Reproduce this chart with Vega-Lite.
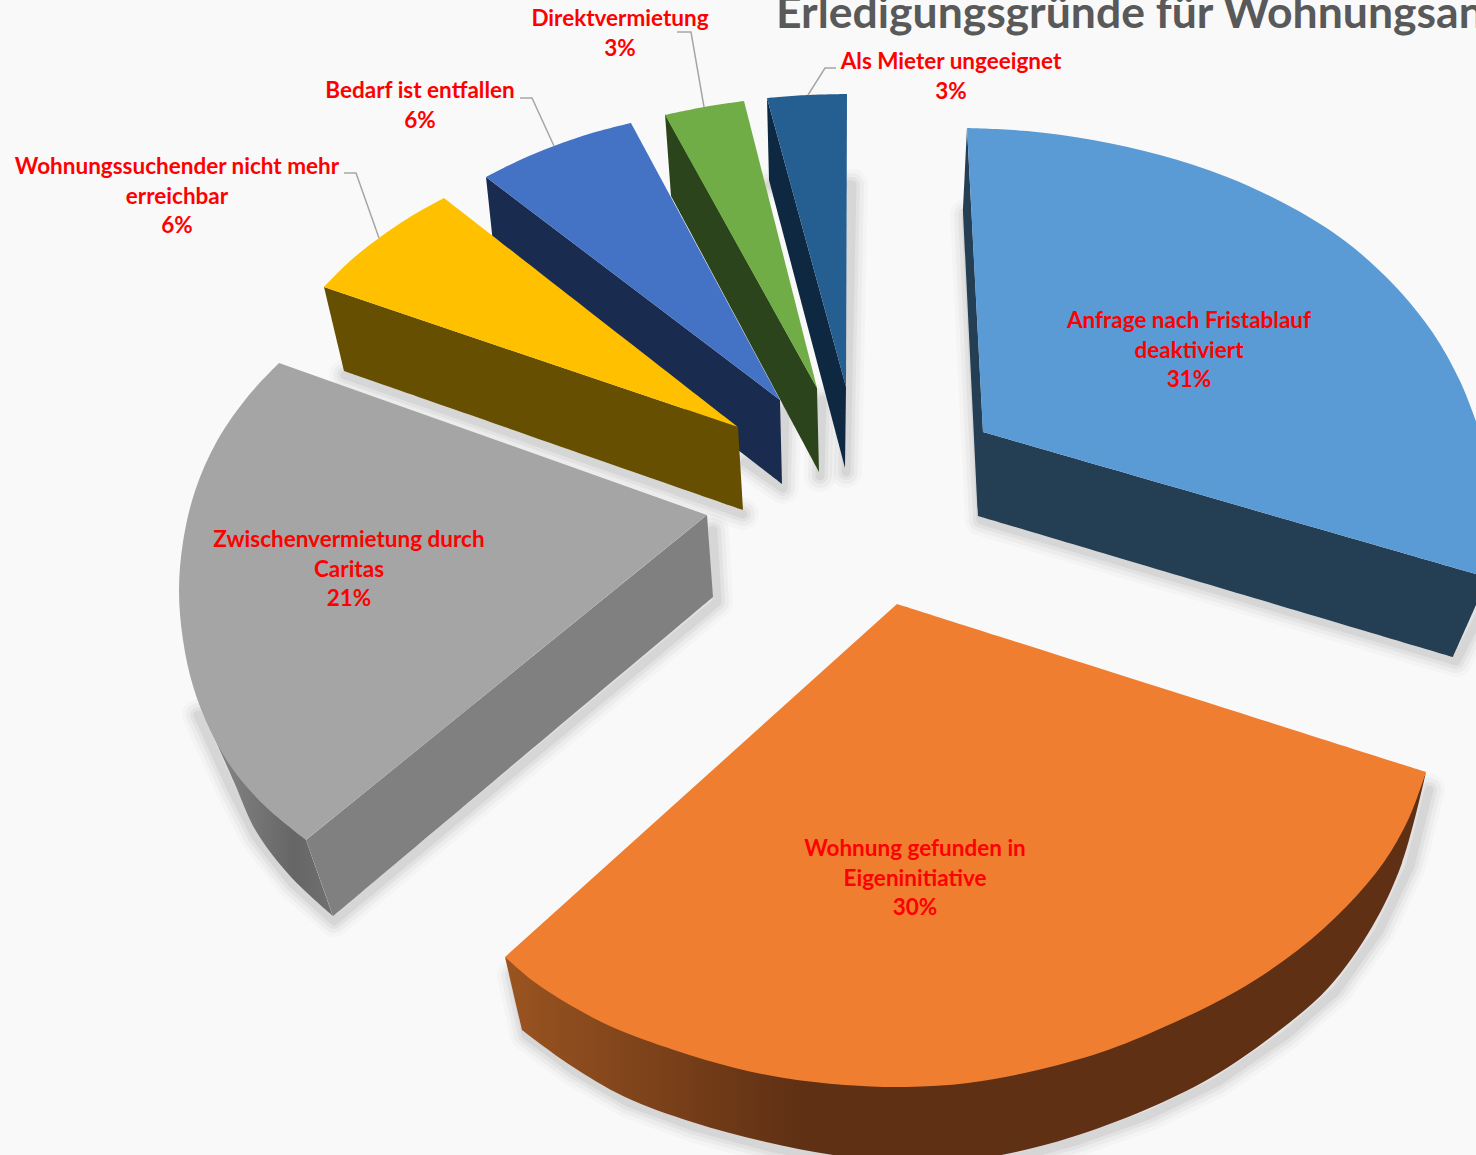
{
"$schema":"https://vega.github.io/schema/vega-lite/v6.json",
"width":1476,"height":1155,"padding":0,"autosize":{"type":"none"},
"background":"#f9f9f9",
"config":{"view":{"stroke":null}},
"datasets":{
"outlines":[
{"surface":"Als Mieter ungeeignet side","n":1,"x":767,"y":98},{"surface":"Als Mieter ungeeignet side","n":2,"x":767,"y":98},{"surface":"Als Mieter ungeeignet side","n":3,"x":769,"y":180},{"surface":"Als Mieter ungeeignet side","n":4,"x":769,"y":180},{"surface":"Als Mieter ungeeignet side","n":5,"x":845,"y":468},{"surface":"Als Mieter ungeeignet side","n":6,"x":845,"y":468},{"surface":"Als Mieter ungeeignet side","n":7,"x":846,"y":387},{"surface":"Als Mieter ungeeignet side","n":8,"x":846,"y":387},
{"surface":"Als Mieter ungeeignet top","n":1,"x":767,"y":98},{"surface":"Als Mieter ungeeignet top","n":2,"x":767,"y":98},{"surface":"Als Mieter ungeeignet top","n":3,"x":807,"y":95},{"surface":"Als Mieter ungeeignet top","n":4,"x":847,"y":94},{"surface":"Als Mieter ungeeignet top","n":5,"x":847,"y":94},{"surface":"Als Mieter ungeeignet top","n":6,"x":846,"y":387},{"surface":"Als Mieter ungeeignet top","n":7,"x":846,"y":387},
{"surface":"Direktvermietung side","n":1,"x":665,"y":114},{"surface":"Direktvermietung side","n":2,"x":665,"y":114},{"surface":"Direktvermietung side","n":3,"x":671,"y":196},{"surface":"Direktvermietung side","n":4,"x":671,"y":196},{"surface":"Direktvermietung side","n":5,"x":819,"y":472},{"surface":"Direktvermietung side","n":6,"x":819,"y":472},{"surface":"Direktvermietung side","n":7,"x":817,"y":388},{"surface":"Direktvermietung side","n":8,"x":817,"y":388},
{"surface":"Direktvermietung top","n":1,"x":665,"y":115},{"surface":"Direktvermietung top","n":2,"x":665,"y":115},{"surface":"Direktvermietung top","n":3,"x":704,"y":107},{"surface":"Direktvermietung top","n":4,"x":744,"y":101},{"surface":"Direktvermietung top","n":5,"x":744,"y":101},{"surface":"Direktvermietung top","n":6,"x":817,"y":388},{"surface":"Direktvermietung top","n":7,"x":817,"y":388},
{"surface":"Bedarf side","n":1,"x":486,"y":177},{"surface":"Bedarf side","n":2,"x":486,"y":177},{"surface":"Bedarf side","n":3,"x":495,"y":262},{"surface":"Bedarf side","n":4,"x":495,"y":262},{"surface":"Bedarf side","n":5,"x":782,"y":484},{"surface":"Bedarf side","n":6,"x":782,"y":484},{"surface":"Bedarf side","n":7,"x":780,"y":400},{"surface":"Bedarf side","n":8,"x":780,"y":400},
{"surface":"Bedarf top","n":1,"x":486,"y":177},{"surface":"Bedarf top","n":2,"x":486,"y":177},{"surface":"Bedarf top","n":3,"x":520,"y":160},{"surface":"Bedarf top","n":4,"x":554,"y":146},{"surface":"Bedarf top","n":5,"x":592,"y":133},{"surface":"Bedarf top","n":6,"x":631,"y":123},{"surface":"Bedarf top","n":7,"x":631,"y":123},{"surface":"Bedarf top","n":8,"x":780,"y":400},{"surface":"Bedarf top","n":9,"x":780,"y":400},
{"surface":"Wohnungssuchender side","n":1,"x":324,"y":287},{"surface":"Wohnungssuchender side","n":2,"x":324,"y":287},{"surface":"Wohnungssuchender side","n":3,"x":344,"y":371},{"surface":"Wohnungssuchender side","n":4,"x":344,"y":371},{"surface":"Wohnungssuchender side","n":5,"x":743,"y":510},{"surface":"Wohnungssuchender side","n":6,"x":743,"y":510},{"surface":"Wohnungssuchender side","n":7,"x":738,"y":427},{"surface":"Wohnungssuchender side","n":8,"x":738,"y":427},
{"surface":"Wohnungssuchender top","n":1,"x":324,"y":287},{"surface":"Wohnungssuchender top","n":2,"x":324,"y":287},{"surface":"Wohnungssuchender top","n":3,"x":350,"y":261},{"surface":"Wohnungssuchender top","n":4,"x":379,"y":238},{"surface":"Wohnungssuchender top","n":5,"x":410,"y":217},{"surface":"Wohnungssuchender top","n":6,"x":444,"y":198},{"surface":"Wohnungssuchender top","n":7,"x":444,"y":198},{"surface":"Wohnungssuchender top","n":8,"x":738,"y":427},{"surface":"Wohnungssuchender top","n":9,"x":738,"y":427},
{"surface":"Zwischenvermietung front","n":1,"x":707,"y":515},{"surface":"Zwischenvermietung front","n":2,"x":707,"y":515},{"surface":"Zwischenvermietung front","n":3,"x":713,"y":597},{"surface":"Zwischenvermietung front","n":4,"x":713,"y":597},{"surface":"Zwischenvermietung front","n":5,"x":333,"y":916},{"surface":"Zwischenvermietung front","n":6,"x":333,"y":916},{"surface":"Zwischenvermietung front","n":7,"x":306,"y":840},{"surface":"Zwischenvermietung front","n":8,"x":306,"y":840},
{"surface":"Zwischenvermietung top","n":1,"x":279,"y":363},{"surface":"Zwischenvermietung top","n":2,"x":279,"y":363},{"surface":"Zwischenvermietung top","n":3,"x":249,"y":395},{"surface":"Zwischenvermietung top","n":4,"x":217,"y":441},{"surface":"Zwischenvermietung top","n":5,"x":195,"y":491},{"surface":"Zwischenvermietung top","n":6,"x":183,"y":542},{"surface":"Zwischenvermietung top","n":7,"x":179,"y":591},{"surface":"Zwischenvermietung top","n":8,"x":183,"y":640},{"surface":"Zwischenvermietung top","n":9,"x":193,"y":686},{"surface":"Zwischenvermietung top","n":10,"x":210,"y":730},{"surface":"Zwischenvermietung top","n":11,"x":234,"y":771},{"surface":"Zwischenvermietung top","n":12,"x":267,"y":808},{"surface":"Zwischenvermietung top","n":13,"x":306,"y":840},{"surface":"Zwischenvermietung top","n":14,"x":306,"y":840},{"surface":"Zwischenvermietung top","n":15,"x":707,"y":515},{"surface":"Zwischenvermietung top","n":16,"x":707,"y":515},
{"surface":"Anfrage side","n":1,"x":967,"y":128},{"surface":"Anfrage side","n":2,"x":967,"y":128},{"surface":"Anfrage side","n":3,"x":963,"y":212},{"surface":"Anfrage side","n":4,"x":963,"y":212},{"surface":"Anfrage side","n":5,"x":978,"y":516},{"surface":"Anfrage side","n":6,"x":978,"y":516},{"surface":"Anfrage side","n":7,"x":1453,"y":657},{"surface":"Anfrage side","n":8,"x":1453,"y":657},{"surface":"Anfrage side","n":9,"x":1476,"y":605},{"surface":"Anfrage side","n":10,"x":1476,"y":605},{"surface":"Anfrage side","n":11,"x":1476,"y":574},{"surface":"Anfrage side","n":12,"x":1476,"y":574},{"surface":"Anfrage side","n":13,"x":983,"y":432},{"surface":"Anfrage side","n":14,"x":983,"y":432},
{"surface":"Anfrage top","n":1,"x":967,"y":128},{"surface":"Anfrage top","n":2,"x":967,"y":128},{"surface":"Anfrage top","n":3,"x":1027,"y":131},{"surface":"Anfrage top","n":4,"x":1093,"y":140},{"surface":"Anfrage top","n":5,"x":1160,"y":155},{"surface":"Anfrage top","n":6,"x":1227,"y":177},{"surface":"Anfrage top","n":7,"x":1293,"y":208},{"surface":"Anfrage top","n":8,"x":1345,"y":241},{"surface":"Anfrage top","n":9,"x":1393,"y":284},{"surface":"Anfrage top","n":10,"x":1433,"y":333},{"surface":"Anfrage top","n":11,"x":1460,"y":381},{"surface":"Anfrage top","n":12,"x":1476,"y":421},{"surface":"Anfrage top","n":13,"x":1476,"y":421},{"surface":"Anfrage top","n":14,"x":1476,"y":574},{"surface":"Anfrage top","n":15,"x":1476,"y":574},{"surface":"Anfrage top","n":16,"x":983,"y":432},{"surface":"Anfrage top","n":17,"x":983,"y":432},
{"surface":"Wohnung top","n":1,"x":897,"y":604},{"surface":"Wohnung top","n":2,"x":897,"y":604},{"surface":"Wohnung top","n":3,"x":1426,"y":772},{"surface":"Wohnung top","n":4,"x":1426,"y":772},{"surface":"Wohnung top","n":5,"x":1409,"y":818},{"surface":"Wohnung top","n":6,"x":1384,"y":862},{"surface":"Wohnung top","n":7,"x":1347,"y":906},{"surface":"Wohnung top","n":8,"x":1298,"y":950},{"surface":"Wohnung top","n":9,"x":1237,"y":991},{"surface":"Wohnung top","n":10,"x":1164,"y":1027},{"surface":"Wohnung top","n":11,"x":1102,"y":1052},{"surface":"Wohnung top","n":12,"x":1029,"y":1072},{"surface":"Wohnung top","n":13,"x":968,"y":1083},{"surface":"Wohnung top","n":14,"x":906,"y":1087},{"surface":"Wohnung top","n":15,"x":845,"y":1085},{"surface":"Wohnung top","n":16,"x":784,"y":1078},{"surface":"Wohnung top","n":17,"x":735,"y":1068},{"surface":"Wohnung top","n":18,"x":674,"y":1050},{"surface":"Wohnung top","n":19,"x":612,"y":1027},{"surface":"Wohnung top","n":20,"x":570,"y":1005},{"surface":"Wohnung top","n":21,"x":533,"y":981},{"surface":"Wohnung top","n":22,"x":505,"y":957},{"surface":"Wohnung top","n":23,"x":505,"y":957}
],
"orangeSide":[
{"n":1,"x":505,"y":957},{"n":2,"x":505,"y":957},{"n":3,"x":522,"y":1030},{"n":4,"x":522,"y":1030},{"n":5,"x":570,"y":1065},{"n":6,"x":625,"y":1097},{"n":7,"x":692,"y":1122},{"n":8,"x":766,"y":1142},{"n":9,"x":833,"y":1155},{"n":10,"x":900,"y":1162},{"n":11,"x":960,"y":1161},{"n":12,"x":1016,"y":1152},{"n":13,"x":1072,"y":1137},{"n":14,"x":1145,"y":1110},{"n":15,"x":1212,"y":1077},{"n":16,"x":1280,"y":1030},{"n":17,"x":1329,"y":987},{"n":18,"x":1372,"y":927},{"n":19,"x":1402,"y":863},{"n":20,"x":1426,"y":772},{"n":21,"x":1426,"y":772},{"n":22,"x":1384,"y":850},{"n":23,"x":1298,"y":940},{"n":24,"x":1164,"y":1017},{"n":25,"x":1029,"y":1062},{"n":26,"x":906,"y":1077},{"n":27,"x":784,"y":1068},{"n":28,"x":674,"y":1040},{"n":29,"x":570,"y":995},{"n":30,"x":505,"y":957}
],
"graySide":[
{"n":1,"x":203,"y":712},{"n":2,"x":203,"y":712},{"n":3,"x":234,"y":782},{"n":4,"x":256,"y":831},{"n":5,"x":291,"y":877},{"n":6,"x":333,"y":916},{"n":7,"x":333,"y":916},{"n":8,"x":306,"y":840},{"n":9,"x":306,"y":840},{"n":10,"x":312,"y":820},{"n":11,"x":240,"y":750},{"n":12,"x":203,"y":712}
],
"shadow":[
{"path":"Anfrage","n":1,"x":966,"y":215},{"path":"Anfrage","n":2,"x":981,"y":520},{"path":"Anfrage","n":3,"x":1456,"y":661},{"path":"Anfrage","n":4,"x":1480,"y":615},
{"path":"Wohnung","n":1,"x":513,"y":975},{"path":"Wohnung","n":2,"x":526,"y":1035},{"path":"Wohnung","n":3,"x":573,"y":1070},{"path":"Wohnung","n":4,"x":628,"y":1102},{"path":"Wohnung","n":5,"x":695,"y":1127},{"path":"Wohnung","n":6,"x":769,"y":1147},{"path":"Wohnung","n":7,"x":835,"y":1160},{"path":"Wohnung","n":8,"x":1018,"y":1157},{"path":"Wohnung","n":9,"x":1076,"y":1141},{"path":"Wohnung","n":10,"x":1149,"y":1115},{"path":"Wohnung","n":11,"x":1217,"y":1082},{"path":"Wohnung","n":12,"x":1286,"y":1035},{"path":"Wohnung","n":13,"x":1336,"y":991},{"path":"Wohnung","n":14,"x":1379,"y":931},{"path":"Wohnung","n":15,"x":1410,"y":866},{"path":"Wohnung","n":16,"x":1429,"y":790},
{"path":"Zwischen","n":1,"x":198,"y":715},{"path":"Zwischen","n":2,"x":232,"y":790},{"path":"Zwischen","n":3,"x":256,"y":837},{"path":"Zwischen","n":4,"x":292,"y":883},{"path":"Zwischen","n":5,"x":334,"y":921},{"path":"Zwischen","n":6,"x":717,"y":602},{"path":"Zwischen","n":7,"x":713,"y":530},
{"path":"Wohnungssuchender","n":1,"x":345,"y":375},{"path":"Wohnungssuchender","n":2,"x":743,"y":514},
{"path":"Bedarf","n":1,"x":745,"y":462},{"path":"Bedarf","n":2,"x":783,"y":488},{"path":"Bedarf","n":3,"x":785,"y":410},
{"path":"Direkt","n":1,"x":820,"y":476},{"path":"Direkt","n":2,"x":822,"y":400},
{"path":"Mieter","n":1,"x":846,"y":472},{"path":"Mieter","n":2,"x":852,"y":185},{"path":"Mieter","n":3,"x":770,"y":185}
],
"leaders":[
{"label":"Direktvermietung","n":1,"x":677,"y":32},{"label":"Direktvermietung","n":2,"x":691,"y":32},{"label":"Direktvermietung","n":3,"x":704,"y":107},
{"label":"Als Mieter","n":1,"x":836,"y":68},{"label":"Als Mieter","n":2,"x":825,"y":68},{"label":"Als Mieter","n":3,"x":808,"y":95},
{"label":"Bedarf","n":1,"x":520,"y":98},{"label":"Bedarf","n":2,"x":532,"y":98},{"label":"Bedarf","n":3,"x":554,"y":146},
{"label":"Wohnungssuchender","n":1,"x":344,"y":173},{"label":"Wohnungssuchender","n":2,"x":356,"y":173},{"label":"Wohnungssuchender","n":3,"x":379,"y":238}
],
"labels":[
{"text":"Direktvermietung\n3%","x":620,"y":19},
{"text":"Als Mieter ungeeignet\n3%","x":951,"y":62},
{"text":"Bedarf ist entfallen\n6%","x":420,"y":91},
{"text":"Wohnungssuchender nicht mehr\nerreichbar\n6%","x":177,"y":167},
{"text":"Anfrage nach Fristablauf\ndeaktiviert\n31%","x":1189,"y":321},
{"text":"Wohnung gefunden in\nEigeninitiative\n30%","x":915,"y":849},
{"text":"Zwischenvermietung durch\nCaritas\n21%","x":349,"y":540}
],
"title":[{"text":"Erledigungsgründe für Wohnungsanfragen","x":776,"y":28}]
},
"encoding":{
"x":{"field":"x","type":"quantitative","scale":{"domain":[0,1476],"nice":false,"zero":false},"axis":null},
"y":{"field":"y","type":"quantitative","scale":{"domain":[0,1155],"reverse":true,"nice":false,"zero":false},"axis":null}
},
"layer":[
{"data":{"name":"shadow"},"mark":{"type":"line","color":"#000000","opacity":0.02,"strokeWidth":32,"strokeJoin":"round","strokeCap":"round","clip":true},"encoding":{"detail":{"field":"path"},"order":{"field":"n","type":"quantitative"}}},
{"data":{"name":"shadow"},"mark":{"type":"line","color":"#000000","opacity":0.03,"strokeWidth":24,"strokeJoin":"round","strokeCap":"round","clip":true},"encoding":{"detail":{"field":"path"},"order":{"field":"n","type":"quantitative"}}},
{"data":{"name":"shadow"},"mark":{"type":"line","color":"#000000","opacity":0.04,"strokeWidth":16,"strokeJoin":"round","strokeCap":"round","clip":true},"encoding":{"detail":{"field":"path"},"order":{"field":"n","type":"quantitative"}}},
{"data":{"name":"shadow"},"mark":{"type":"line","color":"#000000","opacity":0.05,"strokeWidth":9,"strokeJoin":"round","strokeCap":"round","clip":true},"encoding":{"detail":{"field":"path"},"order":{"field":"n","type":"quantitative"}}},
{"data":{"name":"graySide"},"mark":{"type":"line","interpolate":"catmull-rom","strokeWidth":0,"clip":true,"fill":{"gradient":"linear","x1":0,"y1":0,"x2":1,"y2":0,"stops":[{"offset":0,"color":"#8a8a8a"},{"offset":0.7,"color":"#666666"},{"offset":1,"color":"#707070"}]}},"encoding":{"order":{"field":"n","type":"quantitative"}}},
{"data":{"name":"orangeSide"},"mark":{"type":"line","interpolate":"catmull-rom","strokeWidth":0,"clip":true,"fill":{"gradient":"linear","x1":0,"y1":0,"x2":1,"y2":0,"stops":[{"offset":0,"color":"#9a5420"},{"offset":0.32,"color":"#5f3014"},{"offset":1,"color":"#5f3014"}]}},"encoding":{"order":{"field":"n","type":"quantitative"}}},
{"data":{"name":"outlines"},"mark":{"type":"line","interpolate":"catmull-rom","strokeWidth":0,"clip":true},"encoding":{
"fill":{"field":"surface","type":"nominal","legend":null,"sort":null,"scale":{
"domain":["Als Mieter ungeeignet side","Als Mieter ungeeignet top","Direktvermietung side","Direktvermietung top","Bedarf side","Bedarf top","Wohnungssuchender side","Wohnungssuchender top","Zwischenvermietung front","Zwischenvermietung top","Anfrage side","Anfrage top","Wohnung top"],
"range":["#0f2841","#255e91","#2c441b","#70ad47","#1a2b50","#4472c4","#664f00","#ffc000","#808080","#a5a5a5","#243e54","#5b9bd5","#f07e30"]}},
"order":{"field":"n","type":"quantitative"}}},
{"data":{"name":"leaders"},"mark":{"type":"line","color":"#a6a6a6","strokeWidth":1.5},"encoding":{"detail":{"field":"label"},"order":{"field":"n","type":"quantitative"}}},
{"data":{"name":"labels"},"mark":{"type":"text","font":"Lato","fontWeight":"bold","fontSize":22.5,"color":"#ff0000","align":"center","baseline":"middle","lineBreak":"\n","lineHeight":29.5},"encoding":{"text":{"field":"text"}}},
{"data":{"name":"title"},"mark":{"type":"text","font":"Lato","fontWeight":"bold","fontSize":44.5,"color":"#595959","align":"left","baseline":"alphabetic","clip":true},"encoding":{"text":{"field":"text"}}}
]
}
